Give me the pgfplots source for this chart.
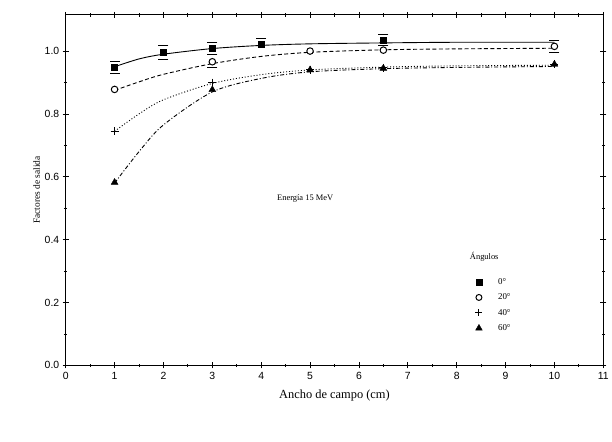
\documentclass[border=0pt]{standalone}
\usepackage{fontspec}
\setmainfont{Liberation Serif}
\setsansfont{Liberation Sans}
\usepackage{pgfplots}
\pgfplotsset{compat=1.18}
\usetikzlibrary{calc}

\pgfplotsset{
    markleg/.style={legend image code/.code={
        \path (0cm,0cm) (0.75cm,0cm);
        \draw[##1] plot coordinates {(0.15cm,0cm)};}},
}

\begin{document}
\begin{tikzpicture}
    \begin{axis}[
            scale only axis,
            width=540bp,
            height=352bp,
            xmin=0, xmax=11,
            ymin=0, ymax=1.115,
            xtick={0,1,...,11},
            ytick={0,0.2,...,1.0},
            minor x tick num=1,
            minor y tick num=1,
            tick align=center,
            major tick length=6pt,
            minor tick length=3.5pt,
            every tick/.style={black, line width=0.8pt},
            axis line style={line width=1.1pt},
            /pgf/number format/assume math mode=true,
            /pgf/number format/fixed,
            /pgf/number format/fixed zerofill,
            yticklabel style={/pgf/number format/precision=1, font=\sffamily\fontsize{10.5}{12}\selectfont},
            xticklabel style={/pgf/number format/precision=0, /pgf/number format/fixed zerofill=false, font=\sffamily\fontsize{10.5}{12}\selectfont},
            xlabel={Ancho de campo (cm)},
            ylabel={Factores de salida},
            xlabel style={font=\fontsize{12.5}{14}\selectfont, yshift=-4pt},
            ylabel style={font=\fontsize{9.5}{11}\selectfont, yshift=-2pt},
            clip=false,
            legend style={at={(axis cs:8.3,0.29)}, anchor=north west, draw=none, fill=none,
                font=\fontsize{9}{10}\selectfont, row sep=4pt},
            legend cell align=left,
        ]

        % fitted curves
        \addplot[black, line width=0.9pt, smooth, forget plot] coordinates {
            (1,0.950) (1.5,0.975) (2,0.990) (3,1.008) (4,1.018) (5,1.023) (6.5,1.026) (8,1.028) (10,1.028)};
        \addplot[black, line width=0.9pt, smooth, dash pattern=on 4pt off 2.5pt, forget plot] coordinates {
            (1,0.875) (1.5,0.902) (2,0.926) (3,0.960) (4,0.983) (5,0.996) (6.5,1.004) (8,1.007) (10,1.009)};
        \addplot[black, line width=0.9pt, smooth, dash pattern=on 1pt off 2pt, forget plot] coordinates {
            (1,0.745) (1.5,0.800) (2,0.845) (3,0.897) (4,0.925) (5,0.940) (6.5,0.949) (8,0.953) (10,0.955)};
        \addplot[black, line width=0.9pt, smooth, dash pattern=on 4pt off 2pt on 1pt off 2pt, forget plot] coordinates {
            (1,0.580) (1.5,0.680) (2,0.765) (3,0.870) (4,0.913) (5,0.934) (6.5,0.944) (8,0.948) (10,0.951)};

        % error-bar caps (upper and lower ends)
        \addplot[only marks, mark=-, mark size=5pt, black, mark options={line width=0.8pt}, forget plot]
            coordinates {
            (1,0.968) (1,0.928)
            (2,1.017) (2,0.973)
            (3,1.028) (3,0.988)
            (4,1.040)
            (6.5,1.053) (6.5,1.019)
            (3,0.948)
            (10,1.035) (10,0.995)};

        % data points
        \addplot[only marks, mark=square*, mark size=3pt, black, forget plot]
            coordinates {(1,0.948) (2,0.995) (3,1.008) (4,1.022) (6.5,1.035)};
        \addplot[only marks, mark=*, mark size=3.3pt, black, mark options={fill=white, line width=1pt}, forget plot]
            coordinates {(1,0.878) (3,0.966) (5,1.000) (6.5,1.003) (10,1.015)};
        \addplot[only marks, mark=+, mark size=4pt, black, mark options={line width=1.1pt}, forget plot]
            coordinates {(1,0.745) (3,0.900) (5,0.940) (6.5,0.947) (10,0.958)};
        \addplot[only marks, mark=triangle*, mark size=4pt, black, forget plot]
            coordinates {(1,0.582) (3,0.877) (5,0.940) (6.5,0.945) (10,0.958)};

        \addlegendimage{markleg, mark=square*, mark size=2.8pt, black}
        \addlegendentry{0°}
        \addlegendimage{markleg, mark=*, mark size=3pt, black, mark options={fill=white, line width=1pt}}
        \addlegendentry{20°}
        \addlegendimage{markleg, mark=+, mark size=3.5pt, black, mark options={line width=1.1pt}}
        \addlegendentry{40°}
        \addlegendimage{markleg, mark=triangle*, mark size=3.8pt, black}
        \addlegendentry{60°}

        \node[anchor=west, font=\fontsize{8.5}{10}\selectfont] at (axis cs:8.2,0.345) {Ángulos};
        \node[font=\fontsize{8.5}{10}\selectfont] at (axis cs:4.9,0.53) {Energía 15 MeV};
    \end{axis}
    \path ($(current axis.north west)+(-66bp,15bp)$) rectangle ($(current axis.south east)+(4bp,-76bp)$);
\end{tikzpicture}
\end{document}
